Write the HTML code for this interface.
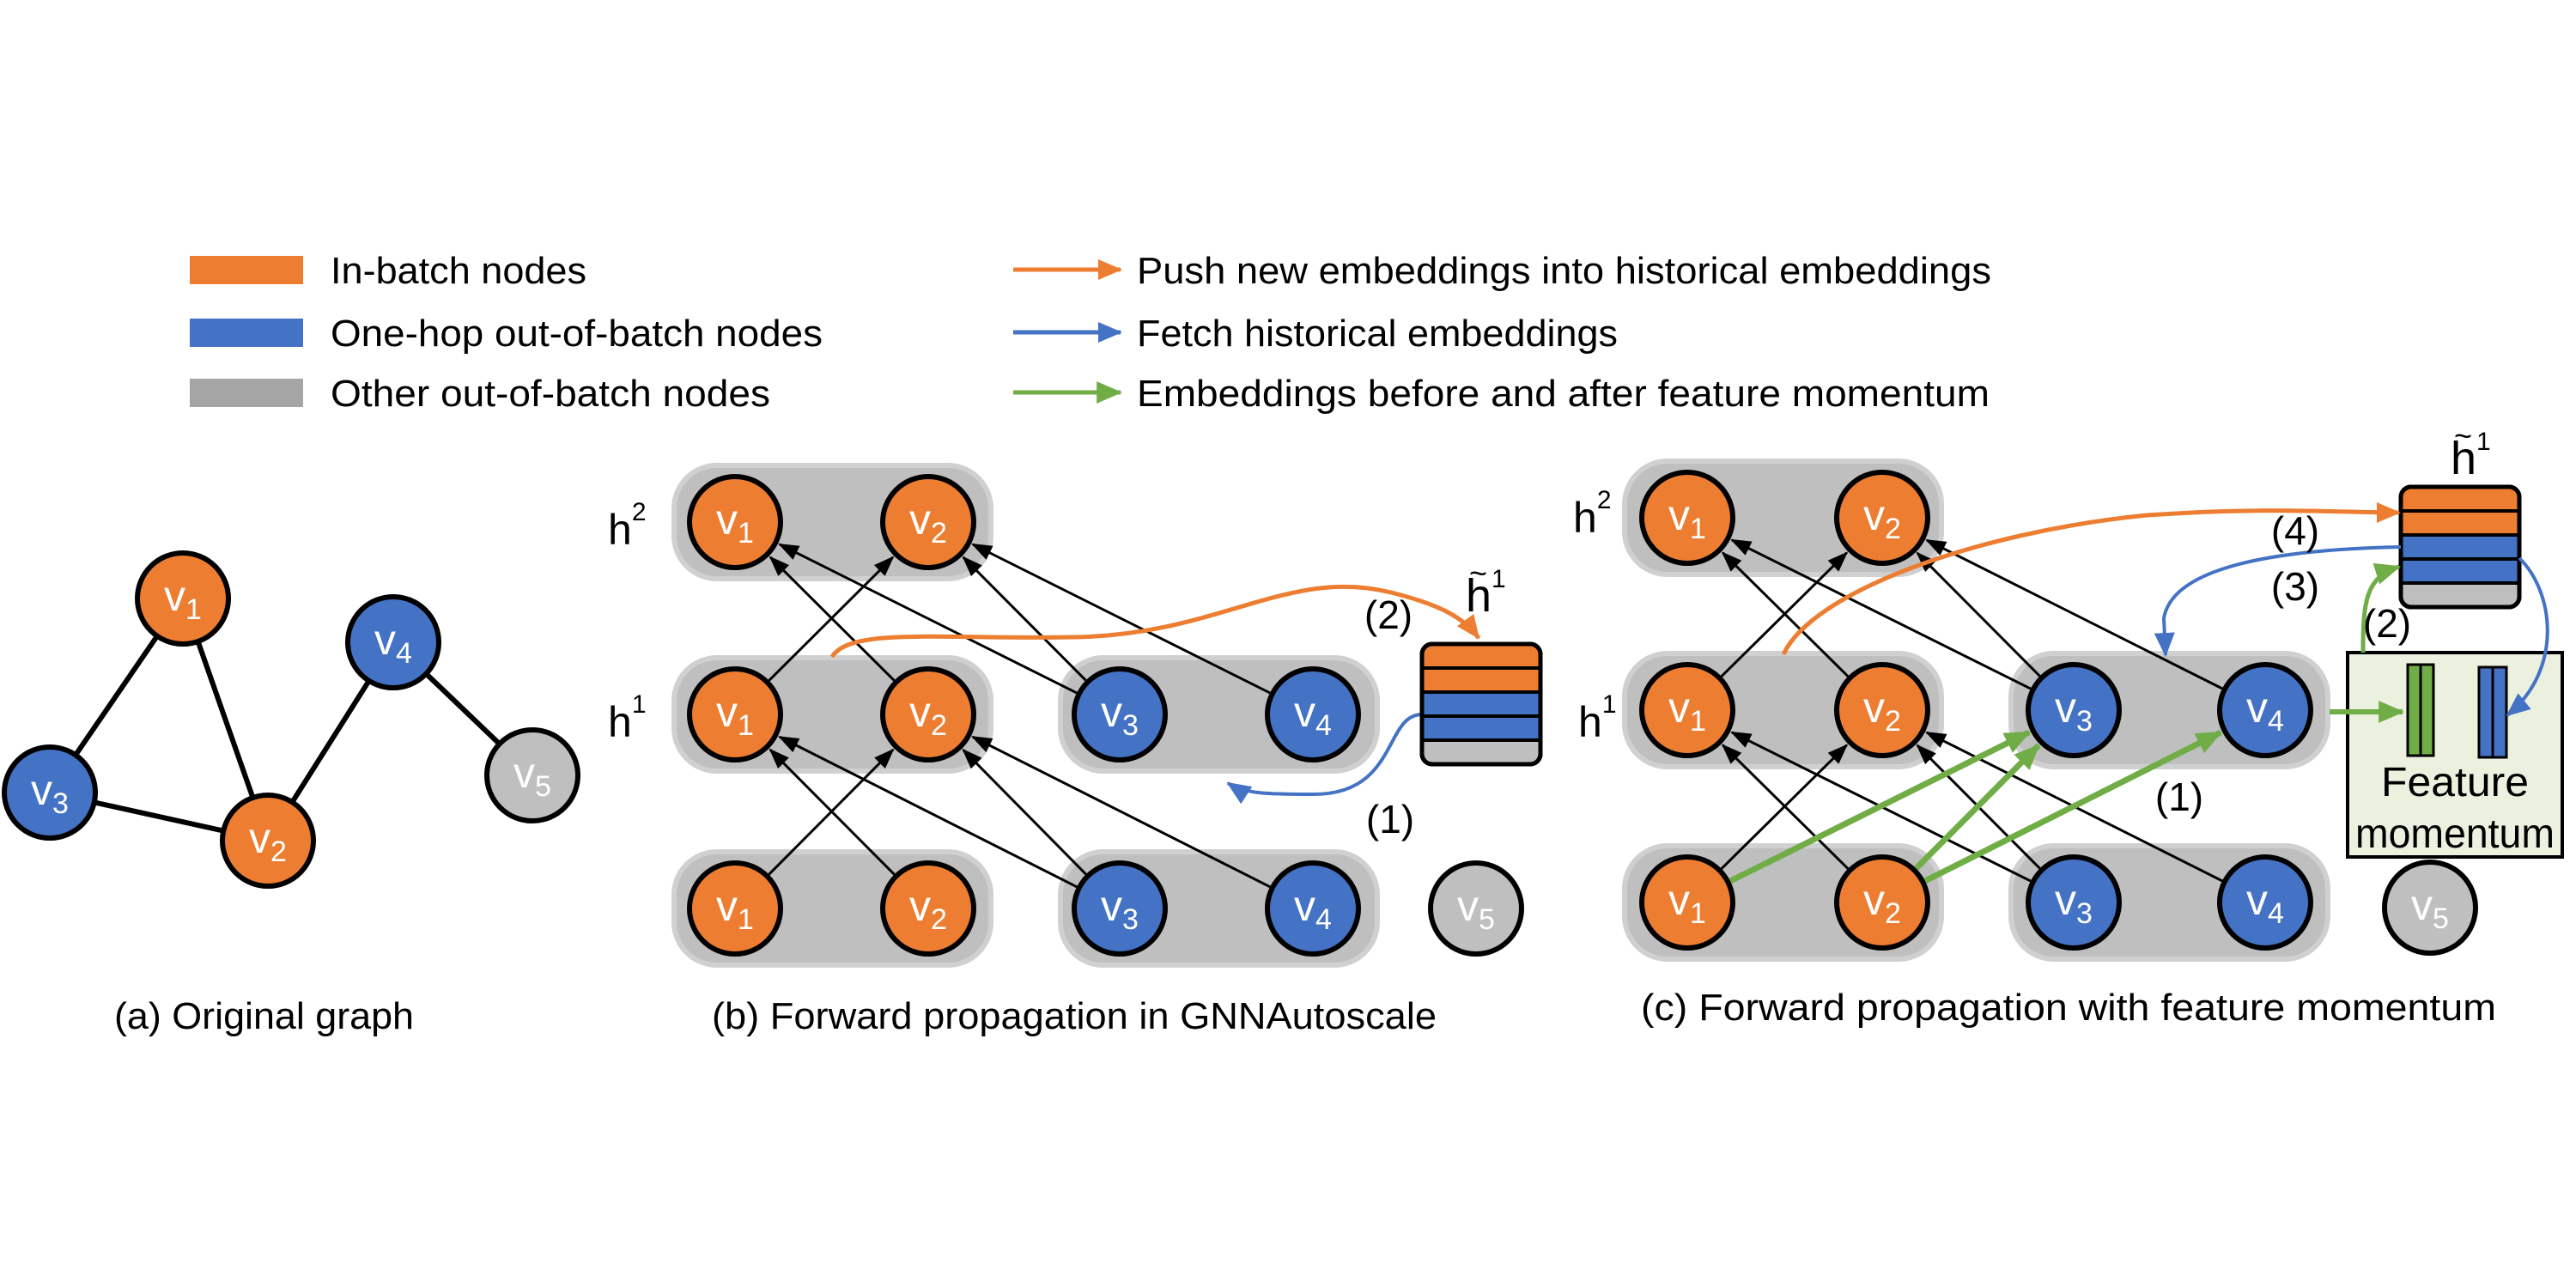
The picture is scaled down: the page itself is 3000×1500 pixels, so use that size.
<!DOCTYPE html>
<html><head><meta charset="utf-8"><style>
html,body{margin:0;padding:0;background:#fff;}
svg{display:block;font-family:"Liberation Sans",sans-serif;}
</style></head><body>
<svg id="s" width="3000" height="1500" viewBox="0 0 3000 1500" xmlns="http://www.w3.org/2000/svg">
<defs>
<marker id="ak" markerUnits="userSpaceOnUse" markerWidth="24" markerHeight="24" viewBox="0 0 24 24" refX="22" refY="12" orient="auto"><path d="M0,3 L24,12 L0,21 Z" fill="#000"/></marker>
<marker id="ao" markerUnits="userSpaceOnUse" markerWidth="28" markerHeight="28" viewBox="0 0 28 28" refX="26" refY="14" orient="auto"><path d="M0,2 L28,14 L0,26 Z" fill="#ED7D31"/></marker>
<marker id="ab" markerUnits="userSpaceOnUse" markerWidth="28" markerHeight="28" viewBox="0 0 28 28" refX="26" refY="14" orient="auto"><path d="M0,2 L28,14 L0,26 Z" fill="#4472C4"/></marker>
<marker id="ag" markerUnits="userSpaceOnUse" markerWidth="30" markerHeight="30" viewBox="0 0 28 28" refX="26" refY="14" orient="auto"><path d="M0,2 L28,14 L0,26 Z" fill="#70AD47"/></marker>
</defs>
<rect x="221" y="298" width="132" height="33" fill="#ED7D31"/>
<rect x="221" y="371" width="132" height="33" fill="#4472C4"/>
<rect x="221" y="441" width="132" height="33" fill="#A5A5A5"/>
<g font-size="44" fill="#000">
<text x="385" y="330" textLength="298" lengthAdjust="spacingAndGlyphs">In-batch nodes</text>
<text x="385" y="403" textLength="573" lengthAdjust="spacingAndGlyphs">One-hop out-of-batch nodes</text>
<text x="385" y="473" textLength="512" lengthAdjust="spacingAndGlyphs">Other out-of-batch nodes</text>
<text x="1324" y="330" textLength="995" lengthAdjust="spacingAndGlyphs">Push new embeddings into historical embeddings</text>
<text x="1324" y="403" textLength="560" lengthAdjust="spacingAndGlyphs">Fetch historical embeddings</text>
<text x="1324" y="473" textLength="993" lengthAdjust="spacingAndGlyphs">Embeddings before and after feature momentum</text>
<text x="133" y="1198" textLength="349" lengthAdjust="spacingAndGlyphs">(a) Original graph</text>
<text x="829" y="1198" textLength="844" lengthAdjust="spacingAndGlyphs">(b) Forward propagation in GNNAutoscale</text>
<text x="1911" y="1188" textLength="996" lengthAdjust="spacingAndGlyphs">(c) Forward propagation with feature momentum</text>
</g>
<line x1="1180" y1="314" x2="1305" y2="314" stroke="#ED7D31" stroke-width="5" marker-end="url(#ao)"/>
<line x1="1180" y1="387" x2="1305" y2="387" stroke="#4472C4" stroke-width="5" marker-end="url(#ab)"/>
<line x1="1180" y1="457" x2="1305" y2="457" stroke="#70AD47" stroke-width="5" marker-end="url(#ag)"/>
<g id="g"></g>
</svg>
<script>
const NS="http://www.w3.org/2000/svg",G=document.getElementById('g');
function el(t,a,txt){const e=document.createElementNS(NS,t);for(const k in a)e.setAttribute(k,a[k]);if(txt!=null)e.textContent=txt;G.appendChild(e);return e;}
const C={o:"#ED7D31",b:"#4472C4",g:"#BFBFBF"};
const R=56;
function node(x,y,c,n){el('circle',{cx:x,cy:y,r:R-3,fill:C[c],stroke:'#000','stroke-width':6});
 const t=el('text',{x:x-22,y:y+14,fill:'#fff','font-size':50});
 t.textContent='v';const s=document.createElementNS(NS,'tspan');s.setAttribute('font-size',34);s.setAttribute('dy',10);s.textContent=n;t.appendChild(s);}
function pill(x1,y1,x2,y2){el('rect',{x:x1,y:y1,width:x2-x1,height:y2-y1,rx:50,fill:'#BFBFBF',stroke:'#D0D0D0','stroke-width':6});}
function arrow(a,b,col,w,mk){const dx=b[0]-a[0],dy=b[1]-a[1],d=Math.hypot(dx,dy),ux=dx/d,uy=dy/d;
 el('line',{x1:a[0]+ux*R,y1:a[1]+uy*R,x2:b[0]-ux*(R+2),y2:b[1]-uy*(R+2),stroke:col,'stroke-width':w,'marker-end':mk});}
function sup(x,y,base,s,sz){const t=el('text',{x:x,y:y,'font-size':sz||50,fill:'#000'});t.textContent=base;const p=document.createElementNS(NS,'tspan');p.setAttribute('font-size',30);p.setAttribute('dy',-28);p.textContent=s;t.appendChild(p);return t;}
function stack(x,y,w){const cols=['o','o','b','b','g'];
 el('rect',{x:x,y:y,width:w,height:140,rx:12,fill:'#BFBFBF',stroke:'#000','stroke-width':5});
 for(let i=0;i<4;i++)el('rect',{x:x+2,y:y+i*28+(i==0?2:0),width:w-4,height:28-(i==0?2:0),fill:C[cols[i]]});
 el('rect',{x:x,y:y,width:w,height:140,rx:12,fill:'none',stroke:'#000','stroke-width':5});
 for(let i=1;i<5;i++)el('line',{x1:x,y1:y+i*28,x2:x+w,y2:y+i*28,stroke:'#000','stroke-width':4});}
function htil(x,y){sup(x,y,'h','1',54);el('text',{x:x+4,y:y-32,'font-size':36,fill:'#000'},'~');}
function lbl(x,y,t){el('text',{x:x,y:y,'font-size':46,fill:'#000','text-anchor':'middle'},t);}

const A={1:[213,697],2:[312,979],3:[58,923],4:[458,748],5:[620,903]};
[[1,3],[1,2],[3,2],[2,4],[4,5]].forEach(([p,q])=>el('line',{x1:A[p][0],y1:A[p][1],x2:A[q][0],y2:A[q][1],stroke:'#000','stroke-width':6}));
node(...A[1],'o',1);node(...A[2],'o',2);node(...A[3],'b',3);node(...A[4],'b',4);node(...A[5],'g',5);

function panel(X,Y,pl,pr,v5,third){
 pill(pl[0],Y[0]-66,pl[1],Y[0]+66);
 pill(pl[0],Y[1]-66,pl[1],Y[1]+66);pill(pr[0],Y[1]-66,pr[1],Y[1]+66);
 pill(pl[0],Y[2]-66,pl[1],Y[2]+66);pill(pr[0],Y[2]-66,pr[1],Y[2]+66);
 const E=[[2,1],[3,1],[1,2],[3,2],[4,2]];
 E.forEach(([s,t])=>{arrow([X[s],Y[1]],[X[t],Y[0]],'#000',3,'url(#ak)');arrow([X[s],Y[2]],[X[t],Y[1]],'#000',3,'url(#ak)');});
 if(third)third();
 node(X[1],Y[0],'o',1);node(X[2],Y[0],'o',2);
 node(X[1],Y[1],'o',1);node(X[2],Y[1],'o',2);node(X[3],Y[1],'b',3);node(X[4],Y[1],'b',4);
 node(X[1],Y[2],'o',1);node(X[2],Y[2],'o',2);node(X[3],Y[2],'b',3);node(X[4],Y[2],'b',4);
 node(v5[0],v5[1],'g',5);
}
panel({1:856,2:1081,3:1304,4:1529},[608,832,1058],[785,1154],[1235,1604],[1719,1058]);
sup(708,634,'h','2');sup(708,858,'h','1');
el('path',{d:'M969,765 C990,730 1100,745 1250,742 C1420,740 1500,660 1620,690 C1680,705 1705,720 1722,743',fill:'none',stroke:'#ED7D31','stroke-width':5,'marker-end':'url(#ao)'});
el('path',{d:'M1656,832 C1612,832 1628,925 1530,925 C1480,925 1450,925 1430,912',fill:'none',stroke:'#4472C4','stroke-width':4,'marker-end':'url(#ab)'});
stack(1656,750,138);htil(1707,712);
lbl(1617,732,'(2)');lbl(1619,970,'(1)');

const XC={1:1965,2:2192,3:2415,4:2638},YC=[603,827,1051];
panel(XC,YC,[1892,2261],[2342,2711],[2830,1057],()=>{});
[[1,3],[2,3],[2,4]].forEach(([s,t])=>arrow([XC[s],YC[2]],[XC[t],YC[1]],'#70AD47',7,'url(#ag)'));
sup(1832,620,'h','2');sup(1838,858,'h','1');
el('rect',{x:2734,y:760,width:250,height:238,fill:'#EBF1DE',stroke:'#000','stroke-width':4});
el('rect',{x:2804,y:774,width:30,height:106,fill:'#70AD47',stroke:'#000','stroke-width':3});
el('line',{x1:2819,y1:774,x2:2819,y2:880,stroke:'#000','stroke-width':3});
el('rect',{x:2887,y:777,width:32,height:105,fill:'#4472C4',stroke:'#000','stroke-width':3});
el('line',{x1:2903,y1:777,x2:2903,y2:882,stroke:'#000','stroke-width':3});
el('text',{x:2859,y:927,'font-size':48,fill:'#000','text-anchor':'middle',textLength:172,lengthAdjust:'spacingAndGlyphs'},'Feature');
el('text',{x:2859,y:987,'font-size':48,fill:'#000','text-anchor':'middle',textLength:232,lengthAdjust:'spacingAndGlyphs'},'momentum');
stack(2796,567,138);htil(2854,552);
el('line',{x1:2713,y1:829,x2:2798,y2:829,stroke:'#70AD47','stroke-width':6,'marker-end':'url(#ag)'});
el('path',{d:'M2752,760 C2752,700 2755,672 2794,660',fill:'none',stroke:'#70AD47','stroke-width':5,'marker-end':'url(#ag)'});
el('path',{d:'M2077,762 C2110,690 2300,620 2500,600 C2650,590 2720,597 2794,597',fill:'none',stroke:'#ED7D31','stroke-width':5,'marker-end':'url(#ao)'});
el('path',{d:'M2796,637 C2650,640 2530,660 2520,720 L2522,763',fill:'none',stroke:'#4472C4','stroke-width':4,'marker-end':'url(#ab)'});
el('path',{d:'M2934,650 C2975,690 2985,780 2920,833',fill:'none',stroke:'#4472C4','stroke-width':4,'marker-end':'url(#ab)'});
lbl(2673,634,'(4)');lbl(2673,699,'(3)');lbl(2780,742,'(2)');lbl(2538,944,'(1)');
</script>
</body></html>
